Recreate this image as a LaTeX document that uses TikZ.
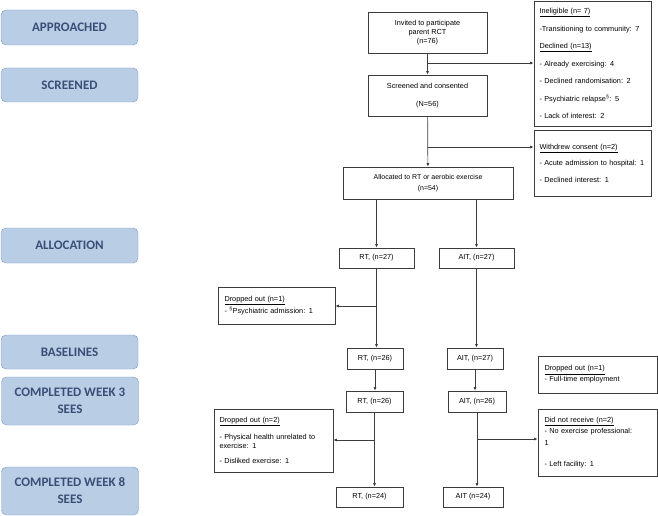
\documentclass[tikz,border=0pt]{standalone}
\usepackage{fontspec}
\setmainfont{Liberation Sans}
\newfontfamily\phasefont{Carlito}
\usetikzlibrary{arrows.meta}
\definecolor{phasefill}{RGB}{185,205,229}
\definecolor{phaseline}{RGB}{122,152,196}
\definecolor{phasetext}{RGB}{58,78,120}
\definecolor{flowline}{RGB}{60,60,60}

\begin{document}
\begin{tikzpicture}[x=1pt, y=-1pt,
	phase/.style={draw=phaseline, fill=phasefill, rounded corners=5pt, minimum width=137pt, align=center, text=phasetext, font=\phasefont\bfseries\fontsize{13}{17}\selectfont, inner sep=0pt},
	flowbox/.style={draw=flowline, line width=0.7pt, align=center, font=\fontsize{7.3}{9}\selectfont, inner sep=0pt},
	sidebox/.style={flowbox, align=left, text width=#1},
	flow/.style={draw=flowline, line width=0.7pt, -{Latex[length=3.5pt,width=3pt]}}]
	\useasboundingbox (0,0) rectangle (658,516);
	\begin{scope}
		\node[phase, minimum height=35pt] (approached) at (69.5,27.5) {APPROACHED};
		\node[phase, minimum height=34pt] (screenedph) at (69.5,85) {SCREENED};
		\node[phase, minimum height=35pt] (allocation) at (69.5,245.5) {ALLOCATION};
		\node[phase, minimum height=34pt] (baselines) at (69.5,352) {BASELINES};
		\node[phase, minimum height=48pt] (weekthree) at (70,401) {COMPLETED WEEK 3\\SEES};
		\node[phase, minimum height=48pt] (weekeight) at (70,491) {COMPLETED WEEK 8\\SEES};
	\end{scope}
	\begin{scope}
		\node[flowbox, minimum width=119pt, minimum height=41pt] (invited) at (427.5,32.5) {Invited to participate\\parent RCT\\(n=76)};
		\node[flowbox, minimum width=119pt, minimum height=41pt] (screened) at (427.5,95.5) {Screened and consented\\[9pt](N=56)};
		\node[flowbox, minimum width=170pt, minimum height=32pt, font=\fontsize{7}{11}\selectfont] (allocated) at (428,183) {Allocated to RT or aerobic exercise\\(n=54)};
		\node[sidebox=106pt, minimum height=125pt, inner xsep=5.5pt] (ineligible) at (592.5,63.5) {\underline{Ineligible (n= 7)}\\[8.5pt]-Transitioning to community: 7\\[8.5pt]\underline{Declined (n=13)}\\[8.5pt]- Already exercising: 4\\[8.5pt]- Declined randomisation: 2\\[8.5pt]- Psychiatric relapse\textsuperscript{\S}: 5\\[8.5pt]- Lack of interest: 2};
		\node[sidebox=106pt, minimum height=66pt, inner xsep=5.5pt] (withdrew) at (592.5,163) {\underline{Withdrew consent (n=2)}\\[7.5pt]- Acute admission to hospital: 1\\[7.5pt]- Declined interest: 1};
	\end{scope}
	\begin{scope}
		\node[flowbox, minimum width=75pt, minimum height=20pt] (rtA) at (376.5,258) {RT, (n=27)};
		\node[flowbox, minimum width=75pt, minimum height=20pt] (aitA) at (476.5,258) {AIT, (n=27)};
		\node[flowbox, minimum width=56pt, minimum height=21pt] (rtB) at (375,358.5) {RT, (n=26)};
		\node[flowbox, minimum width=56pt, minimum height=21pt] (aitB) at (475,358.5) {AIT, (n=27)};
		\node[flowbox, minimum width=57pt, minimum height=21pt] (rtC) at (374.5,401.5) {RT, (n=26)};
		\node[flowbox, minimum width=58pt, minimum height=21pt] (aitC) at (477,401.5) {AIT, (n=26)};
		\node[flowbox, minimum width=67pt, minimum height=20pt] (rtD) at (369.5,497) {RT, (n=24)};
		\node[flowbox, minimum width=60pt, minimum height=20pt] (aitD) at (473,497) {AIT (n=24)};
		\node[sidebox=104pt, minimum height=37pt, inner xsep=6.5pt] (dropone) at (276.5,305.5) {\underline{Dropped out (n=1)}\\[1.5pt]- \textsuperscript{\S}Psychiatric admission: 1};
		\node[sidebox=106pt, minimum height=37pt, inner xsep=6.5pt] (droponeait) at (597.5,374.5) {\underline{Dropped out (n=1)}\\[2pt]- Full-time employment};
		\node[sidebox=108pt, minimum height=63pt, inner xsep=5.5pt] (droptwo) at (273.5,440.5) {\underline{Dropped out (n=2)}\\[8pt]- Physical health unrelated to\\exercise: 1\\[6pt]- Disliked exercise: 1};
		\node[sidebox=106pt, minimum height=67pt, inner xsep=6.5pt] (notreceived) at (597.5,442.5) {\underline{Did not receive (n=2)}\\[1.5pt]- No exercise professional:\\[3pt]1\\[12pt]- Left facility: 1};
	\end{scope}
	\coordinate (splitone) at (427.5,63);
	\coordinate (splittwo) at (427.5,147);
	\coordinate (rtsplit) at (376.5,306);
	\coordinate (rtsplittwo) at (374.5,440);
	\coordinate (aitsplit) at (477,439);
	\draw[flow] (invited) -- (screened);
	\draw[flow] (screened) -- (allocated);
	\draw[flow] (splitone) -- (splitone -| ineligible.west);
	\draw[flow] (splittwo) -- (splittwo -| withdrew.west);
	\draw[flow] (allocated.south -| rtA) -- (rtA.north);
	\draw[flow] (allocated.south -| aitA) -- (aitA.north);
	\draw[flow] (rtA.south) -- (rtA.south |- rtB.north);
	\draw[flow] (rtsplit) -- (rtsplit -| dropone.east);
	\draw[flow] (aitA.south) -- (aitA.south |- aitB.north);
	\draw[flow] (rtB.south) -- (rtB.south |- rtC.north);
	\draw[flow] (aitB.south) -- (aitB.south |- aitC.north);
	\draw[flow] (rtC.south) -- (rtC.south |- rtD.north);
	\draw[flow] (rtsplittwo) -- (rtsplittwo -| droptwo.east);
	\draw[flow] (aitC.south) -- (aitC.south |- aitD.north);
	\draw[flow] (aitsplit) -- (aitsplit -| notreceived.west);
\end{tikzpicture}
\end{document}
